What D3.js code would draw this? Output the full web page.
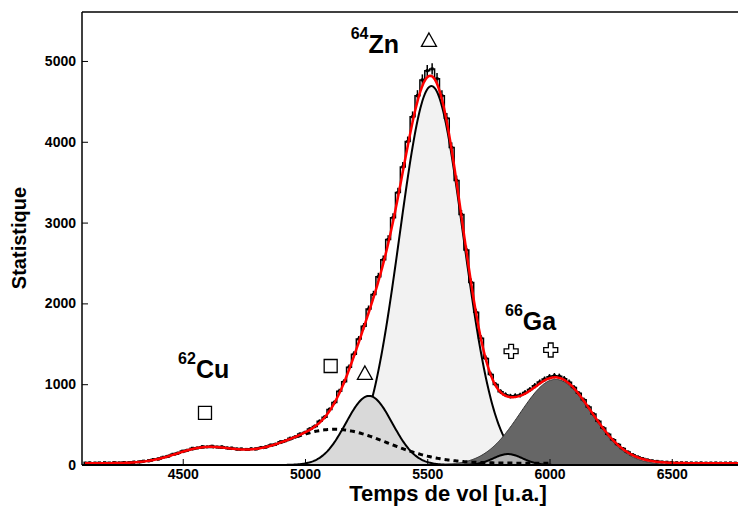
<!DOCTYPE html>
<html><head><meta charset="utf-8">
<script src="https://cdn.jsdelivr.net/npm/d3@7"></script>
<style>
body{margin:0;background:#fff}
svg{display:block}
text{font-family:"Liberation Sans",Arial,Helvetica,sans-serif;font-weight:bold;fill:#000}
</style>
</head><body>
<svg id="c" width="738" height="508"></svg>
<script>
// ---------- data ----------
const tofStart = 4100, tofStep = 20;
const counts = [
 24,27,23,26,28,25,29,27,31,30,
 37,38,48,53,68,75,96,108,133,146,
 172,183,207,211,227,224,233,222,225,211,
 210,198,199,193,201,199,217,223,247,256,
 287,300,331,348,384,403,447,478,541,592,
 687,773,912,1031,1210,1372,1558,1716,1930,2110,
 2330,2541,2790,3061,3372,3689,4002,4310,4571,4765,
 4880,4902,4781,4570,4290,3930,3522,3101,2662,2260,
 1889,1570,1318,1121,995,908,870,852,858,866,
 897,935,982,1027,1063,1092,1105,1098,1068,1025,
 959,887,806,718,630,541,459,381,314,255,
 204,162,128,101,80,64,53,45,38,35,
 31,29,28,27,26,25,27,24,25,26,
 24,25,26,24,25
];
// fit components (gaussians): 62Cu, fond, 64Zn (bas), 64Zn, 66Ga (bas), 66Ga
const peakCenters = [4590, 5120, 5262, 5517, 5830, 6025];
const peakHeights = [180, 420, 855, 4690, 135, 1060];
const peakSigmas  = [120, 215, 95, 130, 60, 145];
const peakFrom    = [4100, 4100, 4800, 4800, 5550, 5500];
const peakTo      = [5300, 6000, 5800, 6300, 6100, 6600];
const background = 22;

const markerX = [4591, 5105, 5245, 5507, 5843, 6005];
const markerY = [644, 1225, 1139, 5260, 1407, 1423];
const markerType = ["square","square","triangle","triangle","cross","cross"];

const labelMass = ["62","64","66"];
const labelElem = ["Cu","Zn","Ga"];
const labelX = [4481, 5187, 5818];
const labelY = [1077, 5099, 1671];

const xTicks = [4500, 5000, 5500, 6000, 6500];
const xMinor = d3.range(4100, 6780, 100);
const yTicks = [0, 1000, 2000, 3000, 4000, 5000];
const yMinor = d3.range(0, 5601, 200);

const xTitle = "Temps de vol [u.a.]";
const yTitle = "Statistique";

// ---------- layout ----------
const svg = d3.select("#c");
const L = 82, R = 739, T = 12, B = 465;
const x = d3.scaleLinear().domain([4088, 6775]).range([L, R]);
const y = d3.scaleLinear().domain([0, 5606]).range([B, T]);

svg.append("defs").append("clipPath").attr("id", "clip")
  .append("rect").attr("x", L).attr("y", T).attr("width", R - L).attr("height", B - T);
const plot = svg.append("g").attr("clip-path", "url(#clip)");

const gauss = (i, t) => peakHeights[i] * Math.exp(-((t - peakCenters[i]) ** 2) / (2 * peakSigmas[i] ** 2));
const total = t => background + peakCenters.reduce((s, _, i) => s + gauss(i, t), 0);
const samples = (a, b) => d3.range(a, b + 0.1, 4);

const area = d3.area().x(d => x(d[0])).y0(y(0)).y1(d => y(d[1]));
const line = d3.line().x(d => x(d[0])).y(d => y(d[1]));
const comp = i => samples(peakFrom[i], peakTo[i]).map(t => [t, gauss(i, t)]);

function filled(i, fill, stroke, sw) {
  plot.append("path").attr("d", area(comp(i))).attr("fill", fill);
  plot.append("path").attr("d", line(comp(i))).attr("fill", "none").attr("stroke", stroke).attr("stroke-width", sw);
}
filled(3, "#f2f2f2", "#000", 2);   // 64Zn
filled(2, "#d9d9d9", "#000", 2);   // 64Zn low
filled(5, "#666666", "#333", 1);   // 66Ga
filled(4, "#b3b3b3", "#000", 2);   // 66Ga low
// fond + 62Cu (dashed)
plot.append("path")
  .attr("d", line(samples(peakFrom[1], peakTo[1]).map(t => [t, background + gauss(0, t) + gauss(1, t)])))
  .attr("fill", "none").attr("stroke", "#000").attr("stroke-width", 3).attr("stroke-dasharray", "5,4");

// data histogram with error bars
const bins = counts.map((c, i) => [tofStart + i * tofStep, c]);
plot.append("path").attr("d", d3.line().x(d => x(d[0])).y(d => y(d[1])).curve(d3.curveStep)(bins))
  .attr("fill", "none").attr("stroke", "#000").attr("stroke-width", 1.5);
plot.append("g").selectAll("line").data(bins).join("line")
  .attr("x1", d => x(d[0])).attr("x2", d => x(d[0]))
  .attr("y1", d => y(d[1] - Math.sqrt(d[1]))).attr("y2", d => y(d[1] + Math.sqrt(d[1])))
  .attr("stroke", "#000").attr("stroke-width", 1.5);
plot.append("g").selectAll("rect").data(bins).join("rect")
  .attr("x", d => x(d[0]) - 1.5).attr("y", d => y(d[1]) - 1.5).attr("width", 3).attr("height", 3).attr("fill", "#000");

// total fit (red)
plot.append("path").attr("d", line(samples(4100, 6780).map(t => [t, total(t)])))
  .attr("fill", "none").attr("stroke", "#ff0000").attr("stroke-width", 2.5);

// ---------- axes ----------
const gx = svg.append("g").attr("transform", `translate(0,${B})`);
gx.call(d3.axisBottom(x).tickValues(xMinor).tickSize(-3).tickFormat(""));
gx.call(d3.axisBottom(x).tickValues(xTicks).tickSize(-6).tickPadding(4).tickFormat(d3.format("d")));
const gy = svg.append("g").attr("transform", `translate(${L},0)`);
gy.call(d3.axisLeft(y).tickValues(yMinor).tickSize(-3).tickFormat(""));
gy.call(d3.axisLeft(y).tickValues(yTicks).tickSize(-6).tickPadding(6).tickFormat(d3.format("d")));
svg.selectAll(".domain").remove();
svg.selectAll(".tick line").attr("stroke", "#000").attr("stroke-width", 1);
svg.selectAll(".tick text").style("font-size", "14px").style("font-family", "'Liberation Sans',Arial,sans-serif").style("font-weight", "bold").attr("fill", "#000");

// frame
svg.append("line").attr("x1", L).attr("x2", 738).attr("y1", T).attr("y2", T).attr("stroke", "#000").attr("stroke-width", 1.5);
svg.append("line").attr("x1", L).attr("x2", L).attr("y1", T).attr("y2", B).attr("stroke", "#000").attr("stroke-width", 1.5);
svg.append("line").attr("x1", L).attr("x2", 738).attr("y1", B).attr("y2", B).attr("stroke", "#000").attr("stroke-width", 2);

// titles
svg.append("text").attr("x", 448).attr("y", 501).attr("text-anchor", "middle").style("font-size", "22px").text(xTitle);
svg.append("text").attr("transform", "translate(26,238) rotate(-90)").attr("text-anchor", "middle").style("font-size", "20px").text(yTitle);

// markers
const crossPath = (s, a) => `M${-a},${-s}L${a},${-s}L${a},${-a}L${s},${-a}L${s},${a}L${a},${a}L${a},${s}L${-a},${s}L${-a},${a}L${-s},${a}L${-s},${-a}L${-a},${-a}Z`;
markerX.forEach((mx, i) => {
  const g = svg.append("g").attr("transform", `translate(${x(mx)},${y(markerY[i])})`);
  let d;
  if (markerType[i] === "square") d = "M-6.5,-6.5H6.5V6.5H-6.5Z";
  else if (markerType[i] === "triangle") d = "M0,-7L7.5,6.5H-7.5Z";
  else d = crossPath(7, 2.4);
  g.append("path").attr("d", d).attr("fill", "#fff").attr("stroke", "#000").attr("stroke-width", 1.3);
});

// isotope labels
labelElem.forEach((el, i) => {
  const t = svg.append("text").attr("x", x(labelX[i])).attr("y", y(labelY[i]));
  t.append("tspan").style("font-size", "16px").attr("dy", -14).text(labelMass[i]);
  t.append("tspan").style("font-size", "25px").attr("dy", 14).text(el);
});
</script>
</body></html>
